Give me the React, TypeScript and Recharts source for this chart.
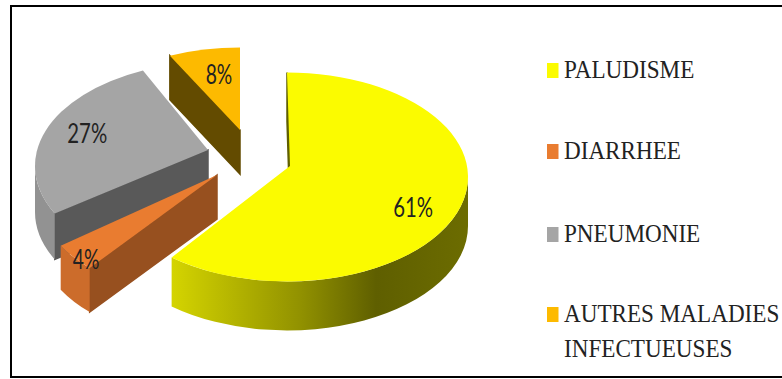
import { PieChart, Pie } from "recharts";

const categories = ["PALUDISME", "DIARRHEE", "PNEUMONIE", "AUTRES MALADIES INFECTUEUSES"];
const values = [61, 4, 27, 8];
const legendLines = [["PALUDISME"], ["DIARRHEE"], ["PNEUMONIE"], ["AUTRES MALADIES", "INFECTUEUSES"]];

const topColors = ["#fbfb00", "#e97c30", "#a5a5a5", "#fdba00"];
const rimColors = ["url(#yellowRim)", "#cc6c2b", "#929292", "#7a5c00"];
const wallColors = ["#5f5f00", "#97501f", "#595959", "#634b00"];

// exploded offset, apex position, perspective nudge of the slice edges, label placement
const sliceStyle = [
  { dx: 0, dy: 0, depth: 49, apex: [3, -11], nudge: [0, 0], labelFrac: 0.7, labelShift: [6, 8] },
  { dx: -68, dy: 18, depth: 44, apex: [-2, -20], nudge: [6, 7], labelFrac: 0.95, labelShift: [5, 5] },
  { dx: -71, dy: -11, depth: 46, apex: [-8, -16], nudge: [9, 5], labelFrac: 0.7, labelShift: [-7, -4] },
  { dx: -47, dy: -25, depth: 44, apex: [0, -22], nudge: [6, 0], labelFrac: 0.7, labelShift: [4, 0] },
];

// back-to-front paint order
const drawOrder = [3, 2, 1, 0];

const chartData = categories.map((name, i) => ({ name, value: values[i] }));

const TILT = 0.577;
const rad = (deg: number) => (deg * Math.PI) / 180;

function Slice3D(props: any) {
  const { cx, cy, outerRadius, startAngle, endAngle, name, layer } = props;
  const idx = categories.indexOf(name);
  if (idx !== layer) return null;

  const s = sliceStyle[idx];
  const a = outerRadius;
  const b = outerRadius * TILT;
  const ox = cx + s.dx;
  const oy = cy + s.dy;
  const from = 90 - startAngle + s.nudge[0];
  const to = 90 - endAngle + s.nudge[1];

  const rim = (t: number): [number, number] => [ox + a * Math.sin(rad(t)), oy - b * Math.cos(rad(t))];
  const arc = (t0: number, t1: number, down: number, sweep: number) => {
    const p = rim(t1);
    const large = Math.abs(t1 - t0) > 180 ? 1 : 0;
    return `A ${a} ${b} 0 ${large} ${sweep} ${p[0]} ${p[1] + down}`;
  };

  const ax = ox + s.apex[0];
  const ay = oy + s.apex[1];
  const p0 = rim(from);

  const top = `M ${ax} ${ay} L ${p0[0]} ${p0[1]} ${arc(from, to, 0, 1)} Z`;
  const wall = `M ${ax} ${ay} L ${p0[0]} ${p0[1]} L ${p0[0]} ${p0[1] + s.depth} L ${ax} ${ay + s.depth} Z`;

  // only the front half of the outer edge shows
  const rimFrom = Math.max(from, 90);
  const rimTo = Math.min(to, 270);
  let rimPath = "";
  if (rimFrom < rimTo) {
    const r0 = rim(rimFrom);
    const r1 = rim(rimTo);
    rimPath =
      `M ${r0[0]} ${r0[1]} ${arc(rimFrom, rimTo, 0, 1)} L ${r1[0]} ${r1[1] + s.depth} ` +
      `${arc(rimTo, rimFrom, s.depth, 0)} Z`;
  }

  const mid = (from + to) / 2;
  const m = rim(mid);
  const lx = ax + (m[0] - ax) * s.labelFrac + s.labelShift[0];
  const ly = ay + (m[1] - ay) * s.labelFrac + s.labelShift[1];
  const label = `${values[idx]}%`;

  return (
    <g>
      <defs>
        <linearGradient id="yellowRim" gradientUnits="userSpaceOnUse" x1={172} x2={468} y1={0} y2={0}>
          <stop offset="0" stopColor="#d4d400" />
          <stop offset="0.43" stopColor="#929200" />
          <stop offset="0.69" stopColor="#5f5f00" />
          <stop offset="1" stopColor="#6c6c00" />
        </linearGradient>
      </defs>
      <path d={wall} fill={wallColors[idx]} stroke={wallColors[idx]} strokeWidth={1.5} />
      {rimPath && <path d={rimPath} fill={rimColors[idx]} />}
      <path d={top} fill={topColors[idx]} />
      <text
        x={lx}
        y={ly}
        textAnchor="middle"
        dominantBaseline="central"
        fontFamily="Lato"
        fontSize={27}
        fill="#222"
        textLength={label.length * 13.3}
        lengthAdjust="spacingAndGlyphs"
      >
        {label}
      </text>
    </g>
  );
}

const legendBaselines = [78, 159, 242, 322];

export default function App() {
  return (
    <div style={{ position: "absolute", left: 0, top: 0, width: 782, height: 379, background: "#fff" }}>
      <PieChart width={782} height={379} margin={{ top: 0, right: 0, bottom: 0, left: 0 }}>
        <rect x={11} y={6} width={800} height={371} fill="none" stroke="#000" strokeWidth={2} />
        {drawOrder.map((layer) => (
          <Pie
            key={layer}
            data={chartData}
            dataKey="value"
            nameKey="name"
            cx={287}
            cy={177}
            outerRadius={181}
            startAngle={90}
            endAngle={-270}
            stroke="none"
            isAnimationActive={false}
            shape={(p: any) => <Slice3D {...p} layer={layer} />}
          />
        ))}
        {legendLines.map((lines, i) => (
          <g key={categories[i]}>
            <rect x={547} y={legendBaselines[i] - 15} width={11.5} height={15} fill={topColors[i]} />
            {lines.map((line, j) => (
              <text
                key={line}
                transform={`translate(564 ${legendBaselines[i] + j * 35}) scale(0.89 1)`}
                fontFamily="Liberation Serif"
                fontSize={26}
                fill="#222"
              >
                {line}
              </text>
            ))}
          </g>
        ))}
      </PieChart>
    </div>
  );
}
